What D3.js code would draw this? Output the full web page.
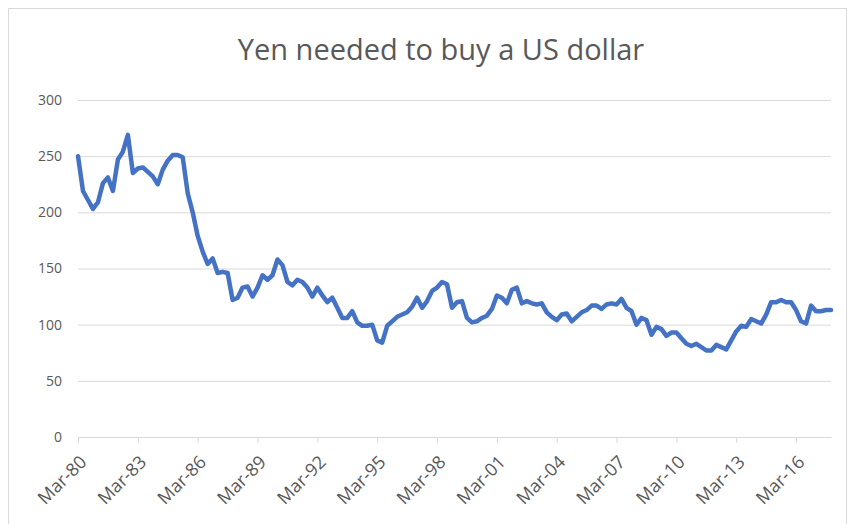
<!DOCTYPE html>
<html>
<head>
<meta charset="utf-8">
<script src="https://cdn.jsdelivr.net/npm/d3@7"></script>
<style>
  body { margin: 0; background: #fff; }
  text { font-family: "Open Sans", "Liberation Sans", sans-serif; fill: #595959; }
</style>
</head>
<body>
<div id="chart"></div>
<script>
// quarterly yen per US dollar, Mar-80 .. Dec-17
const yen = [
  250, 219, 211, 203,  209, 226, 231, 219,  247, 254, 269, 235,
  239, 240, 236, 232,  225, 238, 246, 251,  251, 249, 217, 200,
  179, 165, 154, 159,  146, 147, 146, 122,  124, 133, 134, 125,
  133, 144, 140, 144,  158, 153, 138, 135,  140, 138, 133, 125,
  133, 126, 120, 124,  115, 106, 106, 112,  102, 99, 99, 100,
  86, 84, 99, 103,     107, 109, 111, 116,  124, 115, 121, 130,
  133, 138, 136, 115,  120, 121, 106, 102,  103, 106, 108, 114,
  126, 124, 119, 131,  133, 119, 121, 119,  118, 119, 111, 107,
  104, 109, 110, 103,  107, 111, 113, 117,  117, 114, 118, 119,
  118, 123, 115, 112,  100, 106, 104, 91,   98, 96, 90, 93,
  93, 88, 83, 81,      83, 80, 77, 77,      82, 80, 78, 86,
  94, 99, 98, 105,     103, 101, 109, 120,  120, 122, 120, 120,
  113, 103, 101, 117,  112, 112, 113, 113
];
const tickLabels = ['Mar-80', 'Mar-83', 'Mar-86', 'Mar-89', 'Mar-92', 'Mar-95', 'Mar-98',
  'Mar-01', 'Mar-04', 'Mar-07', 'Mar-10', 'Mar-13', 'Mar-16'];
const yTicks = [0, 50, 100, 150, 200, 250, 300];

const width = 861, height = 524;
const margin = {top: 100, right: 30, bottom: 87, left: 78};

const svg = d3.select('#chart').append('svg')
  .attr('width', width)
  .attr('height', height);

// chart frame
svg.append('rect')
  .attr('x', 8.5).attr('y', 8.5)
  .attr('width', 838).attr('height', 540)
  .attr('fill', 'none')
  .attr('stroke', '#d9d9d9');

const x = d3.scaleLinear()
  .domain([0, yen.length - 1])
  .range([margin.left, width - margin.right]);

const y = d3.scaleLinear()
  .domain([0, 300])
  .range([height - margin.bottom, margin.top]);

// gridlines + y labels
const yAxis = svg.append('g')
  .attr('transform', `translate(${margin.left},0)`)
  .call(d3.axisLeft(y).tickValues(yTicks).tickSize(-(width - margin.left - margin.right)).tickPadding(16));
yAxis.select('.domain').remove();
yAxis.selectAll('.tick line').attr('stroke', '#d9d9d9');
yAxis.selectAll('.tick text').style('font-size', '14px').attr('fill', '#595959');

// x axis with a tick every 12 quarters
const xAxis = svg.append('g')
  .attr('transform', `translate(0,${height - margin.bottom})`)
  .call(d3.axisBottom(x)
    .tickValues(tickLabels.map((_, i) => i * 12))
    .tickFormat((d) => tickLabels[d / 12])
    .tickSize(6)
    .tickSizeOuter(0));
xAxis.select('.domain').attr('stroke', '#d9d9d9');
xAxis.selectAll('.tick line').attr('stroke', '#d9d9d9');
xAxis.selectAll('.tick text')
  .style('font-size', '18px')
  .attr('fill', '#595959')
  .attr('text-anchor', 'end')
  .attr('x', -12)
  .attr('y', 25)
  .attr('dy', 0)
  .attr('transform', 'rotate(-45)');

// the line
const line = d3.line()
  .x((d, i) => x(i))
  .y((d) => y(d));

svg.append('path')
  .datum(yen)
  .attr('d', line)
  .attr('fill', 'none')
  .attr('stroke', '#4472c4')
  .attr('stroke-width', 4.5)
  .attr('stroke-linejoin', 'round')
  .attr('stroke-linecap', 'round');

// title
svg.append('text')
  .attr('x', 441)
  .attr('y', 60)
  .attr('text-anchor', 'middle')
  .style('font-size', '29px')
  .text('Yen needed to buy a US dollar');
</script>
</body>
</html>
